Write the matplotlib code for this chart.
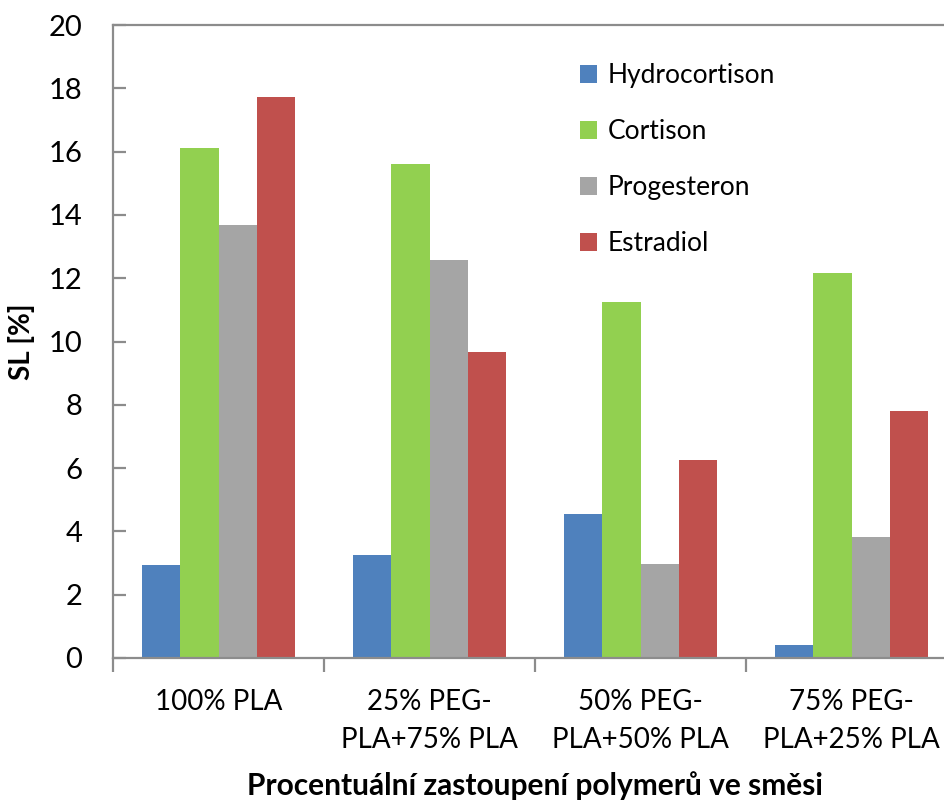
import matplotlib
matplotlib.use("Agg")
import matplotlib.pyplot as plt
from matplotlib.patches import Patch
import numpy as np

plt.rcParams['font.family'] = ['Lato', 'DejaVu Sans']

categories = ["100% PLA", "25% PEG-\nPLA+75% PLA", "50% PEG-\nPLA+50% PLA", "75% PEG-\nPLA+25% PLA"]
series_names = ["Hydrocortison", "Cortison", "Progesteron", "Estradiol"]
hydrocortison = [2.95, 3.25, 4.55, 0.41]
cortison = [16.12, 15.61, 11.25, 12.16]
progesteron = [13.69, 12.57, 2.97, 3.83]
estradiol = [17.74, 9.67, 6.26, 7.80]
colors = ["#4F81BD", "#92D050", "#A5A5A5", "#C0504D"]

values = [hydrocortison, cortison, progesteron, estradiol]

fig = plt.figure(figsize=(9.44, 8.02), dpi=100)
# plot area runs slightly past the right edge of the canvas
ax = fig.add_axes([113 / 944, (802 - 658) / 802, (957 - 113) / 944, (658 - 25) / 802])

x = np.arange(len(categories))
w = 1 / 5.5
for i, (vals, c) in enumerate(zip(values, colors)):
    ax.bar(x + (i - 1.5) * w, vals, width=w, color=c, edgecolor="none", zorder=2)

ax.set_ylim(0, 20)
ax.set_xlim(-0.5, 3.5)
ax.set_yticks(np.arange(0, 21, 2))
ax.set_xticks(x)
ax.set_xticklabels(categories, fontsize=20, linespacing=1.6)
ax.set_xticks(np.arange(-0.5, 3.6, 1.0), minor=True)

gray = "#8C8C8C"
for s in ["left", "bottom", "top"]:
    ax.spines[s].set_color(gray)
    ax.spines[s].set_linewidth(1.6)
ax.spines["right"].set_visible(False)

ax.tick_params(axis="y", direction="in", length=9, width=1.6, color=gray,
               labelsize=21, pad=22)
ax.tick_params(axis="x", which="major", length=0, pad=22)
ax.tick_params(axis="x", which="minor", direction="out", length=10, width=1.6, color=gray)

ax.set_ylabel("SL [%]", fontsize=20, fontweight="bold", labelpad=10)
ax.set_xlabel("Procentuální zastoupení polymerů ve směsi", fontsize=21.5,
              fontweight="bold", labelpad=13)

handles = [Patch(facecolor=c, edgecolor="none") for c in colors]
ax.legend(handles, series_names, loc="upper left", bbox_to_anchor=(0.553, 0.94),
          frameon=False, fontsize=19, handlelength=0.65, handleheight=0.65,
          handletextpad=0.4, labelspacing=1.18, borderpad=0, borderaxespad=0)

fig.savefig("out.png", dpi=100)
